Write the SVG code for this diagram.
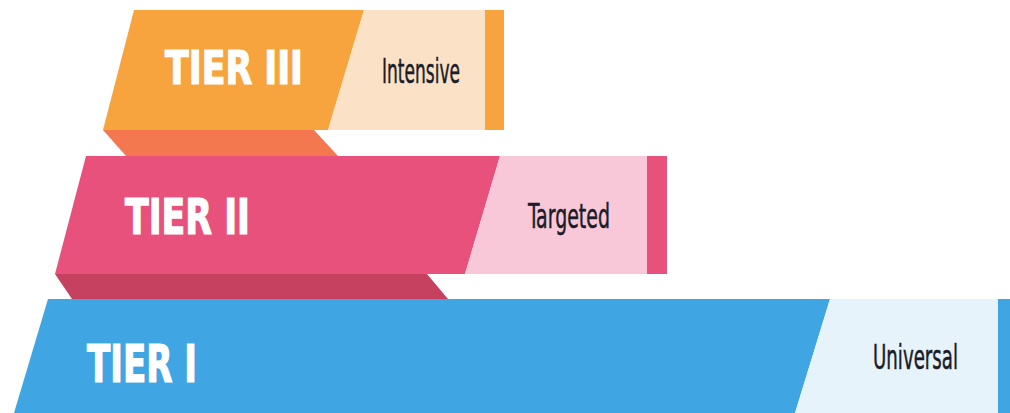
<svg xmlns="http://www.w3.org/2000/svg" width="1010" height="413" viewBox="0 0 1010 413">
<style>
.tier{font-family:"Liberation Sans Narrow","DejaVu Sans Condensed","Liberation Sans",sans-serif;font-weight:bold;fill:#ffffff;stroke:#ffffff;stroke-width:1.2}
.lbl{font-family:"Liberation Sans Narrow","DejaVu Sans Condensed","Liberation Sans",sans-serif;fill:#1c1c28;stroke:#1c1c28;stroke-width:0.5}
</style>
<rect width="1010" height="413" fill="#ffffff"/>
<g id="tier3">
<polygon points="103,130 314,130 338,156 126,156" fill="#f3784f"/>
<polygon points="134,10 364,10 328,130 103,130" fill="#f8a43e"/>
<polygon points="364,10 485,10 485,130 328,130" fill="#fbe1c6"/>
<rect x="485" y="10" width="19" height="120" fill="#f8a43e"/>
<text class="tier" x="165" y="84" font-size="47" textLength="138" lengthAdjust="spacingAndGlyphs">TIER III</text>
<text class="lbl" x="382" y="83" font-size="33" textLength="78" lengthAdjust="spacingAndGlyphs">Intensive</text>
</g>
<g id="tier2">
<polygon points="55,274 427,274 448,299 72,299" fill="#c6405f"/>
<polygon points="86,156 500,156 465,274 55,274" fill="#e8517b"/>
<polygon points="500,156 647,156 647,274 465,274" fill="#f8c8d9"/>
<rect x="647" y="156" width="20" height="118" fill="#e8517b"/>
<text class="tier" x="125" y="234" font-size="50" textLength="125" lengthAdjust="spacingAndGlyphs">TIER II</text>
<text class="lbl" x="528" y="228" font-size="33" textLength="82" lengthAdjust="spacingAndGlyphs">Targeted</text>
</g>
<g id="tier1">
<polygon points="48,299 830,299 795,413 14,413" fill="#3fa6e3"/>
<polygon points="830,299 998,299 998,413 795,413" fill="#e6f3fb"/>
<rect x="998" y="299" width="12" height="114" fill="#3fa6e3"/>
<text class="tier" x="87" y="382" font-size="51" textLength="110" lengthAdjust="spacingAndGlyphs">TIER I</text>
<text class="lbl" x="873" y="369" font-size="33" textLength="85" lengthAdjust="spacingAndGlyphs">Universal</text>
</g>
<g id="connectors"/>
</svg>
